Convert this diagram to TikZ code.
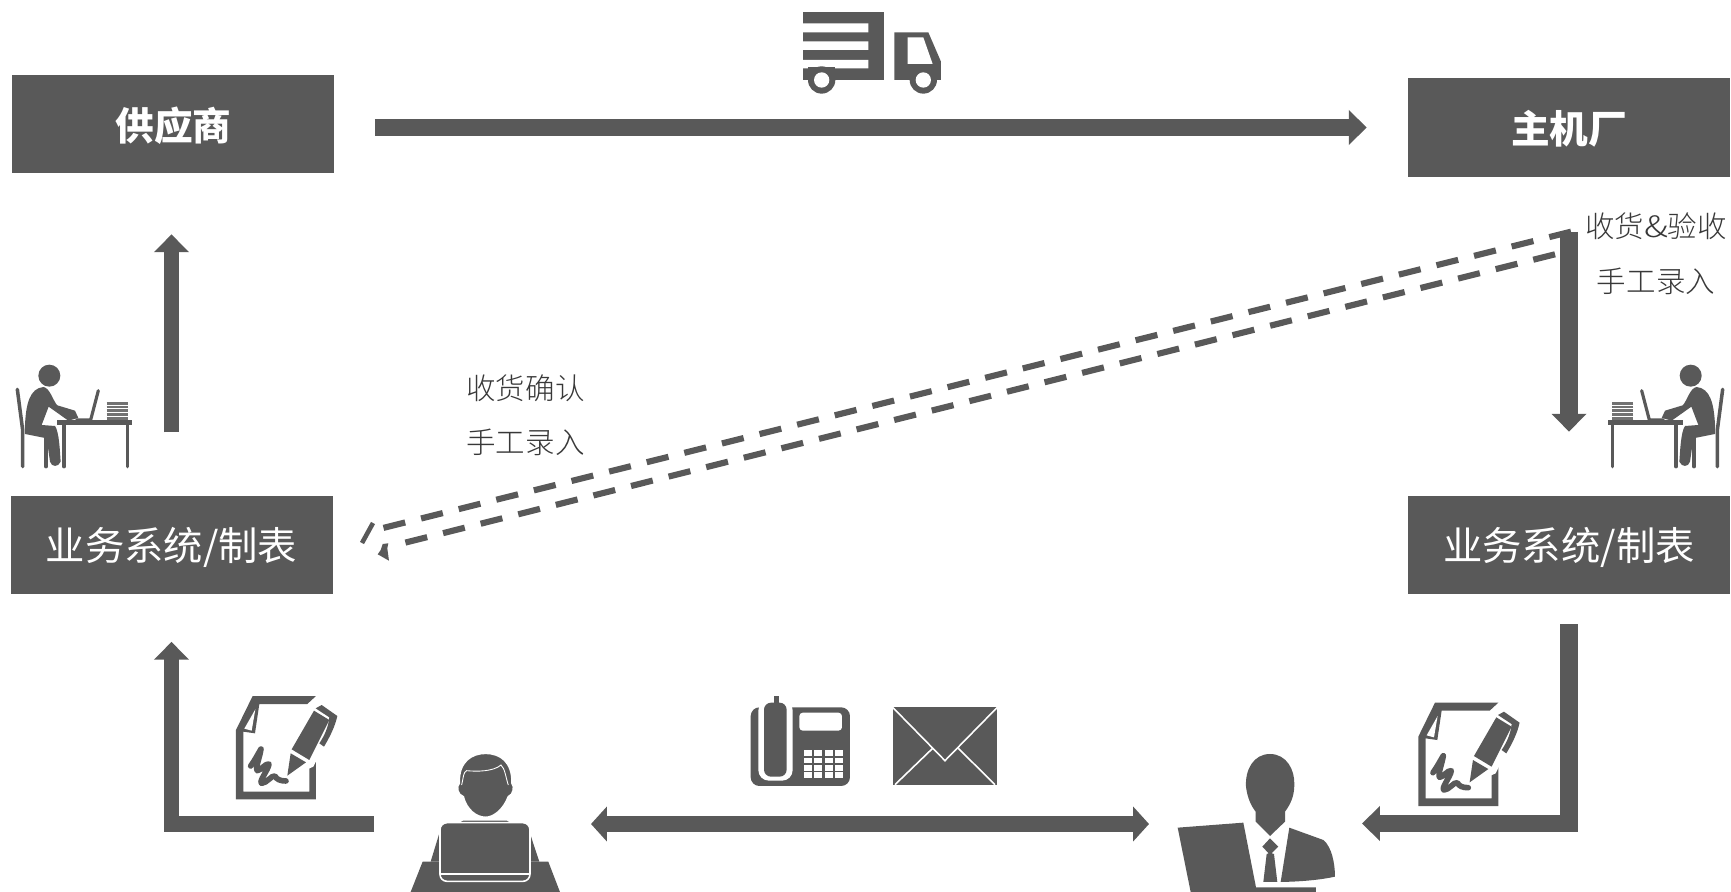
\documentclass[tikz,border=0pt]{standalone}
\usepackage{fontspec}
\setmainfont{Noto Sans CJK SC}
\newfontfamily\lightcjk{Noto Sans CJK SC Light}
\usetikzlibrary{arrows.meta}
\definecolor{ink}{HTML}{595959}
\definecolor{txt}{HTML}{383838}
\def\pxu{0.02cm}
\newcommand{\lowered}[2]{\raisebox{-#1}[\height][\depth]{#2}}
\tikzset{
  block/.style={fill=ink,text=white,inner sep=0pt,minimum width=322*\pxu,minimum height=98*\pxu},
  sysbox/.style={block,font=\fontsize{22.4}{26}\selectfont},
  head/.style={block,font=\fontsize{22}{26}\selectfont\bfseries},
  note/.style={text=txt,inner sep=0pt,font=\fontsize{16.8}{20}\selectfont\lightcjk},
  bar/.style={draw=ink,line width=9.1pt,line join=miter,
    -{Triangle[length=10.2pt,width=19.3pt,fill=ink]}},
  twoway/.style={bar,{Triangle[length=9pt,width=19.3pt,fill=ink]}-{Triangle[length=9pt,width=19.3pt,fill=ink]}},
  dashline/.style={draw=ink,line width=3.5pt,dash pattern=on 12.75pt off 9.31pt},
  wline/.style={draw=white,line width=0.9pt},
}
\newcommand{\deskperson}{%
  \fill[ink] (148,107) circle (33);
  \draw[ink,line width=2pt,line cap=round] (52,148) -- (68,270) -- (68,380);
  \draw[ink,line width=2pt,line cap=round] (138,285) -- (138,380);
  \fill[ink] (75,255) .. controls (78,190) and (90,145) .. (130,141) .. controls (150,143) and (160,185) .. (172,196)
     -- (225,212) -- (235,234) -- (205,242) -- (146,200) -- (125,255) -- (165,258)
     .. controls (178,275) and (180,340) .. (182,365) .. controls (175,382) and (155,382) .. (150,365)
     -- (140,295) -- (75,282) -- cycle;
  \draw[ink,line width=2.6pt] (172,248) -- (397,248);
  \draw[ink,line width=2pt,line cap=round] (192,248) -- (192,380);
  \draw[ink,line width=2pt,line cap=round] (383,248) -- (383,380);
  \draw[ink,line width=1.8pt,line cap=round] (295,152) -- (272,240) -- (230,240);
  \foreach \yy in {191,201,212,223,235}{\draw[ink!85!white,line width=1.7pt] (320,\yy) -- (383,\yy);}
}
\newcommand{\docpen}{%
  \fill[ink] (108,150) -- (158,48) -- (348,48) -- (322,72) -- (178,72) -- (165,160) -- (130,155)
     -- (130,335) -- (328,335) -- (328,262) -- (348,238) -- (348,358) -- (108,358) -- cycle;
  \fill[white] (166,88) -- (155,152) -- (133,146) -- cycle;
  \fill[white] (338,60) -- (420,100) -- (340,260) -- (250,300) -- (262,215) -- cycle;
  \fill[ink] (342,92) -- (388,120) -- (328,240) -- (275,208) -- cycle;
  \fill[ink] (272,220) -- (318,247) -- (262,287) -- cycle;
  \fill[ink] (365,75) -- (412,108) .. controls (405,140) and (390,170) .. (372,200) -- (358,190)
     .. controls (375,165) and (385,140) .. (388,112) -- (347,85) -- cycle;
  \draw[ink,line width=3.2pt,line cap=round,line join=round] (152,258) .. controls (165,240) and (175,220) .. (183,207)
     .. controls (180,230) and (165,265) .. (172,272) .. controls (185,270) and (195,250) .. (207,252)
     .. controls (205,270) and (175,305) .. (185,310) .. controls (200,310) and (215,285) .. (225,288)
     .. controls (230,298) and (240,303) .. (258,303);
}
\begin{document}
\begin{tikzpicture}[x=0.02cm,y=-0.02cm]
\useasboundingbox (0,0) rectangle (1731,892);
% boxes
\node[head] (sup) at (172.5,124) {\hspace{1.2pt}\lowered{0.8pt}{供应商}};
\node[head] (oem) at (1569,127.5) {\lowered{0.8pt}{主机厂}};
\node[sysbox] (sysL) at (171.5,544.5) {\lowered{1.7pt}{业务系统/制表}};
\node[sysbox] (sysR) at (1569,545) {\lowered{1.2pt}{业务系统/制表}};
% labels
\node[note] (n1) at (525.5,388.5) {收货确认};
\node[note] (n2) at (525.5,442.6) {手工录入};
\node[note] (n3) at (1656,226) {收货\scalebox{1.25}[1]{\&}验收};
\node[note] (n4) at (1656,281) {手工录入};
% connector ends
\coordinate (clerkR) at (374,823.5);
\coordinate (clerkL) at (591,824);
\coordinate (mgrL) at (1149,824);
\coordinate (mgrR) at (1362,823.5);
\coordinate (dashA1) at (1571,231.7);
\coordinate (dashA2) at (383,528);
\coordinate (dashB1) at (1555,254.3);
\coordinate (dashB2) at (405,542.7);
% solid arrows
\draw[bar,line width=10.2pt,yshift=0.5pt,shorten <=23.4pt,shorten >=23.3pt] (sup.east |- oem.west) -- (oem.west);
\draw[bar,shorten <=35.8pt,shorten >=34.7pt] (sysL.north) -- (sysL.north |- sup.south);
\draw[bar,line width=10.2pt,shorten <=31.3pt,shorten >=36.4pt] (oem.south) -- (sysR.north);
\draw[bar,shorten >=27.3pt] (clerkR) -| (sysL.south);
\draw[bar,line width=9.7pt,xshift=-0.3pt,shorten <=17pt] (sysR.south) |- (mgrR);
\draw[twoway] (clerkL) -- (mgrL);
% dashed
\draw[dashline] (dashA1) -- (dashA2);
\draw[dashline] (dashB1) -- (dashB2);
\draw[ink,line width=2.6pt] (373,523) -- (362,543);
\fill[ink] (382.7,544) -- (388.3,543.3) -- (387.3,548.3) -- (389,560.7) -- (377.7,554.3) -- (380.7,550) -- cycle;
% truck
\begin{scope}[shift={(760,0)},xscale=0.3333,yscale=0.3333]
  \fill[ink] (128,37) rectangle (372,240);
  \fill[white] (128,70) rectangle (325,97) (128,124) rectangle (325,150) (128,180) rectangle (325,205);
  \fill[ink] (185,240) circle (41);
  \fill[ink] (145,200) rectangle (225,240);
  \fill[white] (185,240) circle (23);
  \fill[ink] (403,97) -- (505,97) -- (543,185) -- (543,240) -- (403,240) -- cycle;
  \fill[white] (443,112) -- (490,112) -- (518,192) -- (443,192) -- cycle;
  \fill[ink] (490,240) circle (41);
  \fill[white] (490,240) circle (23);
\end{scope}
% desk people
\begin{scope}[shift={(0,340)},xscale=0.3333,yscale=0.3333]\deskperson\end{scope}
\begin{scope}[shift={(1740,340)},xscale=-0.3333,yscale=0.3333]\deskperson\end{scope}
% document icons
\begin{scope}[shift={(200,680)},xscale=0.3333,yscale=0.3333]\docpen\end{scope}
\begin{scope}[shift={(1382.3,686.7)},xscale=0.3333,yscale=0.3333]\docpen\end{scope}
% clerk with laptop
\begin{scope}[shift={(200,680)},xscale=0.3333,yscale=0.3333]
  \fill[ink] (668,545) -- (1045,545) -- (1080,636) -- (632,636) -- cycle;
  \fill[ink] (692,545) -- (718,460) -- (790,422) -- (920,422) -- (990,460) -- (1018,545) -- cycle;
  \draw[wline,fill=ink,rounded corners=4pt] (720,428) rectangle (990,604);
  \draw[wline] (720,582) -- (990,582);
  \draw[wline,fill=ink] (857,220) .. controls (900,220) and (938,245) .. (936,310)
     .. controls (945,320) and (940,345) .. (925,350)
     .. controls (910,390) and (880,412) .. (857,412)
     .. controls (830,412) and (800,390) .. (790,350)
     .. controls (772,345) and (768,320) .. (778,310)
     .. controls (775,245) and (815,220) .. (857,220) -- cycle;
  \draw[white,line width=0.5pt] (785,315) .. controls (790,295) and (790,275) .. (800,272)
     .. controls (830,275) and (880,275) .. (903,255) .. controls (915,265) and (918,295) .. (925,315);
\end{scope}
% manager
\begin{scope}[shift={(1150,680)},xscale=0.3333,yscale=0.3333]
  \fill[ink] (360,222) .. controls (310,222) and (285,270) .. (288,320) .. controls (292,355) and (305,380) .. (317,395)
     -- (317,425) -- (360,468) -- (405,425) -- (405,395) .. controls (420,375) and (433,350) .. (433,315)
     .. controls (435,270) and (410,222) .. (360,222) -- cycle;
  \fill[ink] (83,443) -- (280,428) -- (318,622) -- (498,622) -- (498,636) -- (122,636) -- cycle;
  \fill[ink] (418,443) -- (520,480) .. controls (545,500) and (555,550) .. (555,590) .. controls (510,600) and (450,605) .. (392,606) -- cycle;
  \fill[ink] (360,475) -- (385,500) -- (365,520) -- (372,522) -- (382,606) -- (340,606) -- (350,522) -- (356,520) -- (337,500) -- cycle;
\end{scope}
% phone
\begin{scope}[shift={(730,680)},xscale=0.3333,yscale=0.3333]
  \fill[ink,rounded corners=5pt] (62,82) rectangle (360,318);
  \fill[white,rounded corners=6pt] (85,60) rectangle (188,302);
  \fill[ink] (132,48) rectangle (146,75);
  \fill[ink,rounded corners=4pt] (102,68) rectangle (170,290);
  \fill[white,rounded corners=2pt] (208,98) rectangle (336,152);
  \foreach \xx in {222,253,285,315}{\foreach \yy in {210,233,255,277}{\fill[white] (\xx,\yy) rectangle ++(24,17);}}
\end{scope}
% envelope
\begin{scope}[shift={(730,680)},xscale=0.3333,yscale=0.3333]
  \fill[ink] (488,82) rectangle (802,314);
  \draw[white,line width=0.9pt] (488,82) -- (645,242) -- (802,82);
  \draw[white,line width=0.9pt] (495,314) -- (608,205);
  \draw[white,line width=0.9pt] (795,314) -- (685,205);
\end{scope}
\end{tikzpicture}
\end{document}
